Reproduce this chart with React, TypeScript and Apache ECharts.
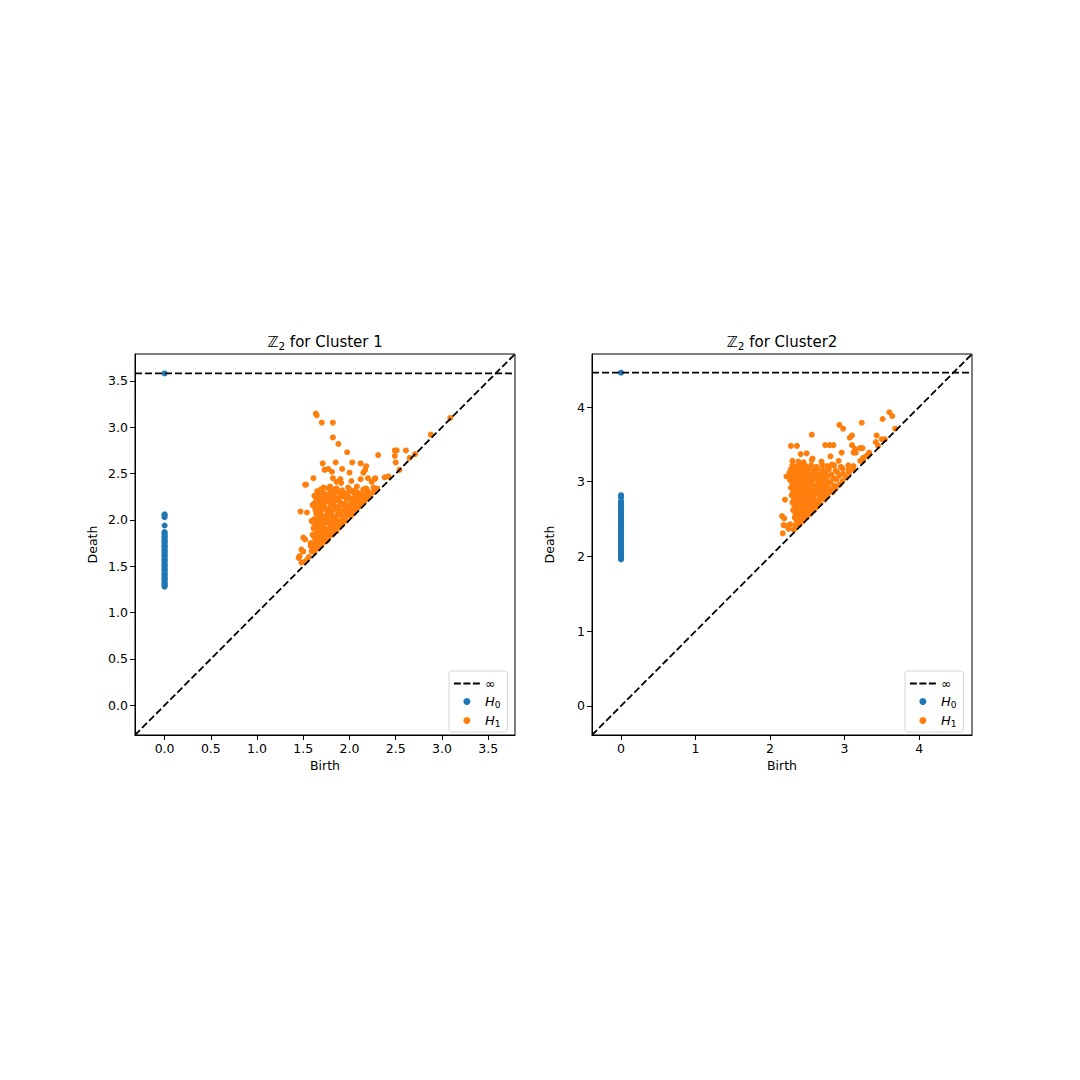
import React, { useEffect, useRef } from "react";
import * as echarts from "echarts";

// ---------- data ----------
const LEFT_RANGE = [-0.32, 3.79];
const RIGHT_RANGE = [-0.39, 4.71];
const LEFT_INF = 3.58;
const RIGHT_INF = 4.46;
const LEFT_TICKS = [0, 0.5, 1.0, 1.5, 2.0, 2.5, 3.0, 3.5];
const RIGHT_TICKS = [0, 1, 2, 3, 4];
const TITLE_SUFFIXES = [" for Cluster 1", " for Cluster2"];

// H0 deaths (birth = 0)
const H0_LEFT = [
  1.28, 1.29, 1.3, 1.31, 1.32, 1.33, 1.35, 1.36, 1.37, 1.38, 1.4, 1.41, 1.42, 1.43, 1.45, 1.46,
  1.47, 1.48, 1.5, 1.51, 1.52, 1.53, 1.55, 1.56, 1.57, 1.58, 1.6, 1.61, 1.62, 1.63, 1.65, 1.66,
  1.67, 1.68, 1.7, 1.71, 1.72, 1.73, 1.75, 1.76, 1.77, 1.78, 1.8, 1.81, 1.82, 1.83, 1.85, 1.86,
  1.87, 1.94, 2.03, 2.05, 2.06, 3.58,
];
const H0_RIGHT = [
  1.96, 1.98, 2.0, 2.02, 2.04, 2.06, 2.08, 2.1, 2.12, 2.14, 2.16, 2.18, 2.2, 2.22, 2.24, 2.26,
  2.28, 2.3, 2.32, 2.34, 2.36, 2.38, 2.4, 2.42, 2.44, 2.46, 2.48, 2.5, 2.52, 2.54, 2.56, 2.58,
  2.6, 2.62, 2.64, 2.66, 2.68, 2.7, 2.72, 2.74, 2.79, 2.82, 4.46,
];

// H1 (birth, death)
const H1_LEFT = [
  [1.635, 3.147], [1.645, 3.13], [1.7, 3.05], [1.82, 3.05], [1.82, 2.89], [1.88, 2.82],
  [1.975, 2.73], [2.31, 2.7], [3.09, 3.1], [2.88, 2.92], [2.49, 2.75], [2.51, 2.75],
  [2.61, 2.75], [2.49, 2.69], [2.65, 2.67], [2.71, 2.71], [2.5, 2.62], [2.54, 2.54],
  [2.42, 2.47], [2.38, 2.46], [2.28, 2.45], [2.24, 2.41], [2.26, 2.35], [1.71, 2.61],
  [1.85, 2.62], [2.03, 2.62], [2.12, 2.61], [2.18, 2.58], [2.17, 2.54], [1.73, 2.54],
  [1.77, 2.55], [1.81, 2.52], [1.92, 2.55], [2.0, 2.51], [2.15, 2.51], [1.61, 2.45],
  [1.53, 2.38], [1.82, 2.45], [1.9, 2.44], [1.91, 2.4], [1.86, 2.41], [2.02, 2.42],
  [2.12, 2.44], [2.2, 2.45], [2.27, 2.44], [1.72, 2.35], [1.79, 2.36], [1.86, 2.34],
  [1.985, 2.35], [2.08, 2.36], [2.18, 2.34], [1.47, 2.09], [1.54, 2.08], [1.52, 2.38],
  [1.5, 1.81], [1.52, 1.79], [1.48, 1.68], [1.5, 1.66], [1.45, 1.59], [1.48, 1.54],
  [1.59, 1.66], [1.59, 1.99], [1.58, 1.75], [1.46, 1.61], [1.54, 1.57],
  [1.65, 2.31], [1.72, 2.29], [1.8, 2.32], [1.88, 2.3], [1.95, 2.28], [2.03, 2.31], [2.1, 2.29], [2.2, 2.31],
  [1.62, 2.26], [1.68, 2.24], [1.75, 2.27], [1.82, 2.25], [1.86, 2.23], [1.93, 2.26], [2.0, 2.24],
  [2.07, 2.27], [2.14, 2.25], [2.19, 2.23],
  [1.64, 2.21], [1.7, 2.19], [1.76, 2.22], [1.8, 2.18], [1.85, 2.21], [1.9, 2.19], [1.97, 2.22],
  [2.02, 2.18], [2.08, 2.21], [2.12, 2.19], [2.16, 2.2],
  [1.6, 2.16], [1.67, 2.14], [1.72, 2.17], [1.78, 2.13], [1.83, 2.16], [1.88, 2.14], [1.94, 2.17],
  [1.99, 2.13], [2.05, 2.16], [2.1, 2.14],
  [1.63, 2.11], [1.69, 2.09], [1.74, 2.12], [1.8, 2.08], [1.84, 2.11], [1.89, 2.09], [1.95, 2.12],
  [2.0, 2.08], [2.04, 2.1],
  [1.66, 2.06], [1.71, 2.04], [1.77, 2.07], [1.82, 2.03], [1.87, 2.06], [1.92, 2.04], [1.97, 2.07], [2.01, 2.04],
  [1.62, 2.01], [1.68, 1.99], [1.73, 2.02], [1.78, 1.98], [1.83, 2.01], [1.88, 1.99], [1.93, 2.0], [1.96, 1.99],
  [1.65, 1.96], [1.7, 1.94], [1.75, 1.97], [1.8, 1.93], [1.85, 1.95], [1.9, 1.93],
  [1.61, 1.91], [1.67, 1.89], [1.72, 1.92], [1.77, 1.88], [1.82, 1.9], [1.86, 1.88],
  [1.64, 1.86], [1.69, 1.84], [1.74, 1.87], [1.79, 1.83], [1.82, 1.85],
  [1.62, 1.81], [1.66, 1.79], [1.71, 1.8], [1.76, 1.78],
  [1.63, 1.76], [1.68, 1.74], [1.71, 1.75], [1.6, 1.71], [1.65, 1.69],
  [1.52, 1.55], [1.56, 1.6], [1.62, 1.65], [1.67, 1.7], [1.74, 1.77], [1.85, 1.88], [1.92, 1.95],
  [2.02, 2.05], [2.08, 2.12], [2.14, 2.18], [2.22, 2.26], [2.26, 2.3], [2.3, 2.34],
  [1.69, 2.33], [1.77, 2.34], [1.84, 2.33], [1.92, 2.32], [2.0, 2.33], [2.06, 2.32], [2.15, 2.33],
  [1.66, 2.28], [1.78, 2.28], [1.84, 2.29], [1.9, 2.27], [1.98, 2.29], [2.05, 2.29], [2.12, 2.28], [2.17, 2.27],
  [1.66, 2.23], [1.73, 2.24], [1.79, 2.23], [1.89, 2.24], [1.96, 2.24], [2.04, 2.23], [2.1, 2.23],
  [1.62, 2.18], [1.68, 2.17], [1.74, 2.19], [1.83, 2.19], [1.92, 2.17], [2.0, 2.16], [2.06, 2.19], [2.13, 2.17],
  [1.65, 2.13], [1.71, 2.14], [1.76, 2.1], [1.86, 2.13], [1.92, 2.1], [1.97, 2.15], [2.02, 2.12], [2.07, 2.13],
  [1.64, 2.07], [1.69, 2.03], [1.75, 2.05], [1.8, 2.05], [1.85, 2.02], [1.9, 2.07], [1.95, 2.03], [1.99, 2.06],
  [1.6, 1.98], [1.66, 2.0], [1.71, 1.97], [1.76, 2.0], [1.81, 1.96], [1.86, 1.98], [1.91, 1.97],
  [1.63, 1.93], [1.68, 1.91], [1.73, 1.89], [1.78, 1.91], [1.84, 1.92],
  [1.66, 1.83], [1.7, 1.87], [1.77, 1.85], [1.6, 1.84], [1.67, 1.77], [1.73, 1.82], [1.58, 1.72], [1.62, 1.73],
];

const H1_RIGHT = [
  [3.6, 3.93], [3.64, 3.88], [3.51, 3.84], [3.68, 3.71], [3.23, 3.79], [2.93, 3.76],
  [2.98, 3.71], [2.56, 3.63], [3.1, 3.62], [3.07, 3.59], [3.43, 3.62], [3.42, 3.53],
  [3.45, 3.48], [3.5, 3.57], [3.54, 3.57], [3.1, 3.49], [3.21, 3.45], [3.24, 3.45],
  [3.14, 3.44], [3.15, 3.39], [3.12, 3.39], [2.96, 3.39], [3.33, 3.39], [3.25, 3.32],
  [3.3, 3.35], [3.21, 3.28], [3.25, 3.29], [2.28, 3.48], [2.36, 3.48], [2.74, 3.49],
  [2.8, 3.49], [2.85, 3.49], [2.41, 3.37], [2.49, 3.38], [2.57, 3.31], [2.56, 3.29],
  [2.3, 3.28], [2.38, 3.27], [2.45, 3.26], [2.69, 3.27], [2.81, 3.34], [2.83, 3.23],
  [2.92, 3.28], [2.22, 3.07], [2.2, 2.76], [2.16, 2.54], [2.19, 2.51], [2.18, 2.42],
  [2.22, 2.41], [2.17, 2.31], [2.27, 2.43], [2.25, 2.37], [2.32, 2.36],
  [2.3, 3.22], [2.36, 3.21], [2.42, 3.23], [2.48, 3.21], [2.55, 3.22], [2.62, 3.2], [2.7, 3.23],
  [2.77, 3.21], [2.86, 3.22], [2.95, 3.2], [3.05, 3.22], [3.12, 3.21],
  [2.28, 3.17], [2.33, 3.16], [2.39, 3.18], [2.45, 3.16], [2.51, 3.17], [2.58, 3.15], [2.64, 3.18],
  [2.71, 3.16], [2.79, 3.17], [2.88, 3.15], [2.97, 3.18], [3.05, 3.16], [3.12, 3.17],
  [2.26, 3.12], [2.31, 3.11], [2.37, 3.13], [2.43, 3.11], [2.49, 3.12], [2.55, 3.1], [2.61, 3.13],
  [2.68, 3.11], [2.74, 3.12], [2.82, 3.1], [2.9, 3.13], [2.98, 3.11], [3.06, 3.12],
  [2.29, 3.07], [2.34, 3.06], [2.4, 3.08], [2.46, 3.06], [2.52, 3.07], [2.58, 3.05], [2.64, 3.08],
  [2.7, 3.06], [2.77, 3.07], [2.85, 3.05], [2.93, 3.08], [3.02, 3.06],
  [2.27, 3.02], [2.32, 3.01], [2.38, 3.03], [2.44, 3.01], [2.5, 3.02], [2.56, 3.0], [2.62, 3.03],
  [2.68, 3.01], [2.74, 3.02], [2.81, 3.0], [2.89, 3.03], [2.97, 3.01],
  [2.3, 2.97], [2.35, 2.96], [2.41, 2.98], [2.47, 2.96], [2.53, 2.97], [2.59, 2.95], [2.65, 2.98],
  [2.71, 2.96], [2.78, 2.97], [2.86, 2.95], [2.93, 2.96],
  [2.28, 2.92], [2.33, 2.91], [2.39, 2.93], [2.45, 2.91], [2.51, 2.92], [2.57, 2.9], [2.63, 2.93],
  [2.69, 2.91], [2.75, 2.92], [2.82, 2.9], [2.88, 2.91],
  [2.31, 2.87], [2.36, 2.86], [2.42, 2.88], [2.48, 2.86], [2.54, 2.87], [2.6, 2.85], [2.66, 2.88],
  [2.72, 2.86], [2.79, 2.87], [2.84, 2.86],
  [2.29, 2.82], [2.34, 2.81], [2.4, 2.83], [2.46, 2.81], [2.52, 2.82], [2.58, 2.8], [2.64, 2.83],
  [2.7, 2.81], [2.77, 2.81],
  [2.32, 2.77], [2.37, 2.76], [2.43, 2.78], [2.49, 2.76], [2.55, 2.77], [2.61, 2.75], [2.67, 2.77], [2.73, 2.76],
  [2.3, 2.72], [2.35, 2.71], [2.41, 2.73], [2.47, 2.71], [2.53, 2.72], [2.59, 2.7], [2.66, 2.71],
  [2.33, 2.67], [2.38, 2.66], [2.44, 2.68], [2.5, 2.66], [2.56, 2.67], [2.62, 2.66],
  [2.31, 2.62], [2.36, 2.61], [2.42, 2.63], [2.48, 2.61], [2.55, 2.62], [2.59, 2.62],
  [2.34, 2.57], [2.39, 2.56], [2.45, 2.58], [2.51, 2.56], [2.54, 2.57],
  [2.33, 2.52], [2.38, 2.51], [2.43, 2.53], [2.49, 2.52],
  [2.36, 2.47], [2.41, 2.46], [2.44, 2.47], [2.34, 2.42], [2.39, 2.42],
];

// ---------- styling ----------
const FONT = "DejaVu Sans";
const BLUE = "#1f77b4";
const ORANGE = "#ff7f0e";
const GRIDS = [
  { left: 135, top: 354, width: 380, height: 381 },
  { left: 592, top: 354, width: 380, height: 381 },
];

const legendFormatter = (name: string) => {
  if (name === "H0") return "{i|H}{s|0}";
  if (name === "H1") return "{i|H}{s|1}";
  return "{n|∞}";
};

function makeAxis(range: number[], ticks: number[], gi: number, isX: boolean, dec: number) {
  return {
    type: "value",
    gridIndex: gi,
    min: range[0],
    max: range[1],
    name: isX ? "Birth" : "Death",
    nameLocation: "middle",
    nameGap: isX ? 24 : 36,
    nameTextStyle: { fontFamily: FONT, fontSize: 12.5, color: "#000" },
    axisLine: { show: true, onZero: false, lineStyle: { color: "#000", width: 1 } },
    axisTick: { show: true, inside: false, length: 5, customValues: ticks, lineStyle: { color: "#000" } },
    axisLabel: {
      show: true,
      margin: 7,
      customValues: ticks,
      formatter: (v: number) => v.toFixed(dec),
      fontFamily: FONT,
      fontSize: 12.5,
      color: "#000",
    },
    splitLine: { show: false },
  };
}

function App() {
  const ref = useRef<HTMLDivElement>(null);
  useEffect(() => {
    if (!ref.current) return;
    const chart = echarts.init(ref.current, null, { renderer: "svg" });
    const ranges = [LEFT_RANGE, RIGHT_RANGE];
    const infs = [LEFT_INF, RIGHT_INF];
    const h0s = [H0_LEFT, H0_RIGHT];
    const h1s = [H1_LEFT, H1_RIGHT];
    const series: any[] = [];
    for (let g = 0; g < 2; g++) {
      const r = ranges[g];
      series.push({
        type: "scatter",
        name: "H0",
        xAxisIndex: g,
        yAxisIndex: g,
        data: h0s[g].map((d) => [0, d]),
        symbolSize: 6,
        itemStyle: { color: BLUE, opacity: 1 },
        z: 2,
      });
      series.push({
        type: "scatter",
        name: "H1",
        xAxisIndex: g,
        yAxisIndex: g,
        data: h1s[g],
        symbolSize: 6,
        itemStyle: { color: ORANGE, opacity: 1 },
        z: 2,
      });
      series.push({
        type: "line",
        name: "diag",
        xAxisIndex: g,
        yAxisIndex: g,
        data: [[r[0], r[0]], [r[1], r[1]]],
        symbol: "none",
        lineStyle: { color: "#000", width: 1.8, type: [7, 3] },
        z: 3,
        silent: true,
      });
      series.push({
        type: "line",
        name: "∞",
        xAxisIndex: g,
        yAxisIndex: g,
        data: [[r[0], infs[g]], [r[1], infs[g]]],
        symbol: "none",
        lineStyle: { color: "#000", width: 1.8, type: [7, 3] },
        itemStyle: { color: "#000" },
        z: 3,
        silent: true,
      });
    }
    const legendBase = (left: number) => ({
      data: [
        {
          name: "∞",
          itemStyle: { color: "rgba(0,0,0,0)", borderColor: "rgba(0,0,0,0)", borderWidth: 0 },
          lineStyle: { color: "#000", width: 1.8, type: [7, 2.5] },
        },
        "H0",
        "H1",
      ],
      orient: "vertical",
      left,
      top: 671,
      padding: [6, 7, 4, 4],
      itemWidth: 26,
      itemHeight: 7,
      itemGap: 5,
      backgroundColor: "#fff",
      borderColor: "#d6d6d6",
      borderWidth: 1,
      borderRadius: 3,
      selectedMode: false,
      formatter: legendFormatter,
      textStyle: {
        fontFamily: FONT,
        color: "#000",
        fontSize: 12.5,
        rich: {
          i: { fontFamily: FONT, fontStyle: "italic", fontSize: 13, color: "#000" },
          s: { fontFamily: FONT, fontSize: 9, color: "#000", padding: [6, 0, 0, 0] },
          n: { fontFamily: FONT, fontSize: 12.5, color: "#000" },
        },
      },
    });
    chart.setOption({
      animation: false,
      backgroundColor: "#fff",
      grid: GRIDS.map((g) => ({
        ...g,
        show: true,
        borderColor: "#000",
        borderWidth: 1,
        backgroundColor: "transparent",
        containLabel: false,
      })),
      xAxis: [
        makeAxis(LEFT_RANGE, LEFT_TICKS, 0, true, 1),
        makeAxis(RIGHT_RANGE, RIGHT_TICKS, 1, true, 0),
      ],
      yAxis: [
        makeAxis(LEFT_RANGE, LEFT_TICKS, 0, false, 1),
        makeAxis(RIGHT_RANGE, RIGHT_TICKS, 1, false, 0),
      ],
      legend: [legendBase(449), legendBase(905)],
      graphic: TITLE_SUFFIXES.map((t, i) => ({
        type: "text",
        x: GRIDS[i].left + GRIDS[i].width / 2,
        y: 342,
        style: {
          text: "{z|ℤ}{s|2}{t|" + t + "}",
          fontFamily: FONT,
          fontSize: 15,
          fill: "#000",
          textAlign: "center",
          textVerticalAlign: "middle",
          rich: {
            z: { fontFamily: FONT, fontSize: 15, fill: "#000" },
            s: { fontFamily: FONT, fontSize: 10.5, fill: "#000", padding: [7, 0, 0, 0] },
            t: { fontFamily: FONT, fontSize: 15, fill: "#000" },
          },
        },
      })),
      series,
    });
    return () => chart.dispose();
  }, []);
  return (
    <div
      ref={ref}
      style={{ position: "fixed", left: 0, top: 0, width: 1080, height: 1080, background: "#fff" }}
    />
  );
}

export default App;
